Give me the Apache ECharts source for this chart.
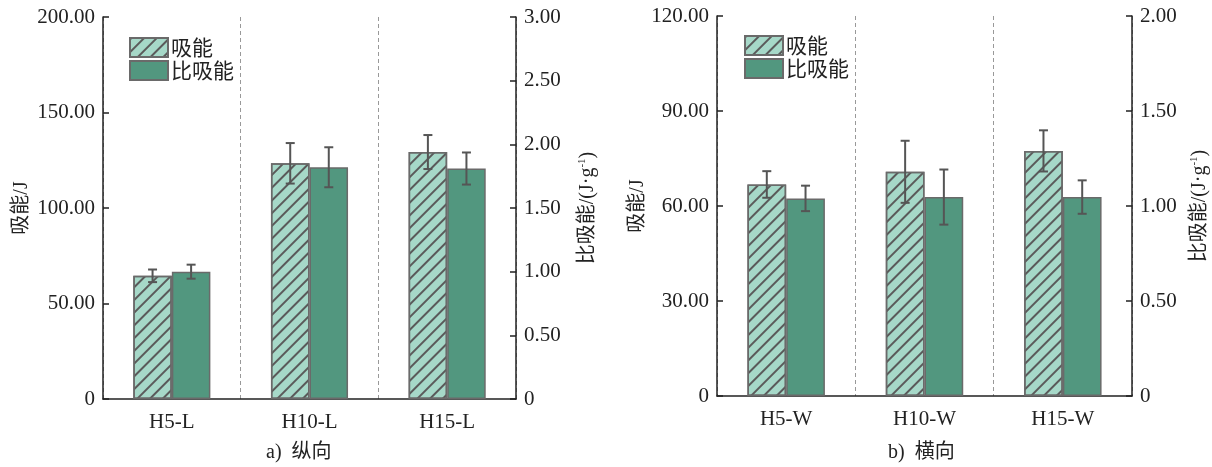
<!DOCTYPE html>
<html>
<head>
<meta charset="utf-8">
<script src="https://cdn.jsdelivr.net/npm/echarts@6/dist/echarts.min.js"></script>
<style>html,body{margin:0;padding:0;background:#fff}#c{width:1212px;height:467px}</style>
</head>
<body>
<div id="c"></div>
<script>
// ---- data ----
var catsL = ['H5-L', 'H10-L', 'H15-L'];
var absorbL = [64.5, 123.4, 129.3];
var absorbErrL = [3.3, 10.6, 8.9];
var specL = [1.00, 1.82, 1.81];
var specErrL = [0.055, 0.157, 0.126];

var catsW = ['H5-W', 'H10-W', 'H15-W'];
var absorbW = [66.8, 70.8, 77.4];
var absorbErrW = [4.2, 9.8, 6.5];
var specW = [1.04, 1.047, 1.047];
var specErrW = [0.067, 0.145, 0.088];

var seriesNames = ['吸能', '比吸能'];
var captions = ['a)  纵向', 'b)  横向'];
var yNameLeft = '吸能/J';

// ---- style ----
var FONT = 'Liberation Serif, Noto Sans CJK SC';
var CJK = 'Noto Sans CJK SC';
var TXT = '#222';
var lightC = '#a6d8c8';
var darkC = '#52977f';
var borderC = '#6a6a6a';
var hatch = {symbol: 'rect', symbolSize: 1, dashArrayX: [1, 0], dashArrayY: [1.5, 7], rotation: -Math.PI / 4, color: '#5a5a5a'};
var BAR_RATIO = 0.28;

function fmt(v) { return v === 0 ? '0' : v.toFixed(2); }

function valueAxis(gi, pos, max, interval, name, gap) {
  return {
    type: 'value', gridIndex: gi, position: pos, min: 0, max: max, interval: interval,
    name: name, nameLocation: 'middle', nameGap: gap, nameRotate: 90,
    nameTextStyle: {fontFamily: FONT, fontSize: 20, color: TXT,
      rich: {s: {fontFamily: FONT, fontSize: 11, color: TXT, verticalAlign: 'top', padding: [0, 0, 10, 0]},
             n: {fontFamily: FONT, fontSize: 20, color: TXT}}},
    axisLine: {show: true, onZero: false, lineStyle: {color: TXT, width: 1.5}},
    axisTick: {show: true, inside: true, length: 6, lineStyle: {color: TXT, width: 1.5}},
    axisLabel: {formatter: fmt, fontFamily: FONT, fontSize: 21, color: TXT, margin: 8},
    splitLine: {show: false}
  };
}

function catAxis(gi, cats) {
  return {
    type: 'category', gridIndex: gi, data: cats, boundaryGap: true,
    axisLine: {show: true, onZero: false, lineStyle: {color: TXT, width: 1.5}},
    axisTick: {show: false},
    axisLabel: {fontFamily: FONT, fontSize: 21, color: TXT, margin: 13},
    splitLine: {show: true, lineStyle: {color: '#999', type: [4, 3], width: 1}}
  };
}

function errRender(side) {
  return function (params, api) {
    var x = api.value(0), v = api.value(1), e = api.value(2);
    var top = api.coord([x, v + e]);
    var bot = api.coord([x, v - e]);
    var band = api.size([1, 0])[0];
    var cx = top[0] + side * band * BAR_RATIO / 2;
    var hw = 4.5;
    var st = {stroke: '#555', lineWidth: 2};
    return {type: 'group', children: [
      {type: 'line', shape: {x1: cx, y1: top[1], x2: cx, y2: bot[1]}, style: st},
      {type: 'line', shape: {x1: cx - hw, y1: top[1], x2: cx + hw, y2: top[1]}, style: st},
      {type: 'line', shape: {x1: cx - hw, y1: bot[1], x2: cx + hw, y2: bot[1]}, style: st}
    ]};
  };
}

function errData(vals, errs) { return vals.map(function (v, i) { return [i, v, errs[i]]; }); }

function barSeries(name, xi, yi, data, hatched) {
  return {
    type: 'bar', name: name, xAxisIndex: xi, yAxisIndex: yi, data: data,
    barWidth: (BAR_RATIO * 100) + '%', barGap: '0%',
    itemStyle: hatched
      ? {color: lightC, borderColor: borderC, borderWidth: 1.5, decal: hatch}
      : {color: darkC, borderColor: borderC, borderWidth: 1.5},
    emphasis: {disabled: true}
  };
}

function errSeries(xi, yi, vals, errs, side) {
  return {type: 'custom', xAxisIndex: xi, yAxisIndex: yi, data: errData(vals, errs),
    encode: {x: 0, y: 1}, renderItem: errRender(side), z: 5, silent: true};
}

function legend(left, top) {
  return {
    data: seriesNames, left: left, top: top, orient: 'vertical', itemGap: 2,
    itemWidth: 38, itemHeight: 19, icon: 'rect',
    textStyle: {fontFamily: CJK, fontSize: 21, color: TXT, padding: [0, 0, 0, -2]},
    selectedMode: false
  };
}

var chart = echarts.init(document.getElementById('c'), null, {renderer: 'canvas'});
chart.setOption({
  animation: false,
  aria: {enabled: false, decal: {show: false}},
  grid: [
    {left: 103, right: 696, top: 17, bottom: 68},
    {left: 717, right: 80, top: 16, bottom: 71}
  ],
  legend: [legend(124, 32), legend(739, 30)],
  xAxis: [catAxis(0, catsL), catAxis(1, catsW)],
  yAxis: [
    valueAxis(0, 'left', 200, 50, yNameLeft, 71),
    valueAxis(0, 'right', 3, 0.5, '{n|比吸能/(J·g}{s|-1}{n|)}', 61),
    valueAxis(1, 'left', 120, 30, yNameLeft, 66),
    valueAxis(1, 'right', 2, 0.5, '{n|比吸能/(J·g}{s|-1}{n|)}', 57)
  ],
  series: [
    barSeries(seriesNames[0], 0, 0, absorbL, true),
    barSeries(seriesNames[1], 0, 1, specL, false),
    errSeries(0, 0, absorbL, absorbErrL, -1),
    errSeries(0, 1, specL, specErrL, 1),
    barSeries(seriesNames[0], 1, 2, absorbW, true),
    barSeries(seriesNames[1], 1, 3, specW, false),
    errSeries(1, 2, absorbW, absorbErrW, -1),
    errSeries(1, 3, specW, specErrW, 1)
  ],
  graphic: [
    {type: 'text', left: 266, top: 443, style: {text: captions[0], font: '20px ' + FONT, fill: TXT}},
    {type: 'text', left: 888, top: 443, style: {text: captions[1], font: '20px ' + FONT, fill: TXT}}
  ]
});
</script>
</body>
</html>
